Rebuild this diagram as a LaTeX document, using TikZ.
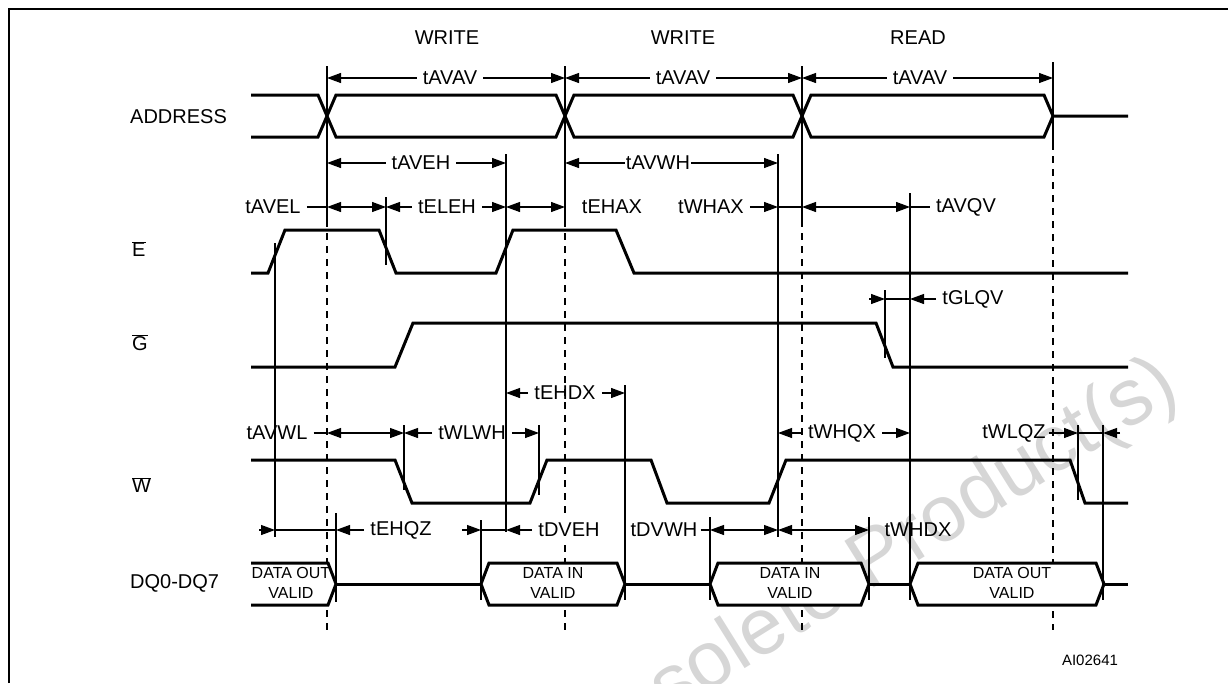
\documentclass[tikz,border=0pt]{standalone}
\usepackage{fontspec}
\setmainfont{Liberation Sans}
\newfontfamily\wmfont{Liberation Sans}
\usetikzlibrary{arrows.meta}
\begin{document}
\begin{tikzpicture}[x=1pt,y=-1pt,
  >={Triangle[length=14pt,width=10pt]},
  sig/.style={line width=3pt},
  thinl/.style={line width=1.1pt},
  dashv/.style={line width=1.1pt,dash pattern=on 7pt off 6pt},
  lbl/.style={font=\fontsize{20}{22}\selectfont,inner sep=6pt},
  sname/.style={font=\fontsize{20}{22}\selectfont,anchor=west,inner sep=0pt},
  small/.style={font=\fontsize{16}{20}\selectfont,align=center,inner sep=0pt},
]
\useasboundingbox (0,0) rectangle (1228,683);
% watermark
\node[rotate=32,text=black!16,font=\wmfont\fontsize{80}{80}\selectfont,anchor=base east,inner sep=0pt] (wm) at (1182,396) {Obsolete Product(s)};
% frame
\draw[line width=2.5pt] (9,683) -- (9,9) -- (1228,9);
% dashed period lines
\draw[thinl] (327,66) -- (327,220);
\draw[thinl] (565,66) -- (565,220);
\draw[thinl] (802,66) -- (802,220);
\draw[thinl] (1053,62) -- (1053,143);
\draw[dashv] (327,220) -- (327,630);
\draw[dashv] (565,220) -- (565,630);
\draw[dashv] (802,220) -- (802,630);
\draw[dashv] (1053,143) -- (1053,630);
% headings
\node[lbl] (w1) at (447,38) {WRITE};
\node[lbl] (w2) at (683,38) {WRITE};
\node[lbl] (rd) at (918,38) {READ};
% signal names
\node[sname] (nAddr) at (130,117) {ADDRESS};
\node[sname] (nE) at (132,249) {$\overline{\mbox{E}}$};
\node[sname] (nG) at (132,343) {$\overline{\mbox{G}}$};
\node[sname] (nW) at (132,485) {$\overline{\mbox{W}}$};
\node[sname] (nDQ) at (130,583) {DQ0-DQ7};
% address
\draw[sig] (251,95) -- (318,95) -- (336,137) -- (556,137) -- (574,95) -- (793,95) -- (811,137) -- (1044,137) -- (1053,116) -- (1128,116);
\draw[sig] (251,137) -- (318,137) -- (336,95) -- (556,95) -- (574,137) -- (793,137) -- (811,95) -- (1044,95) -- (1053,116);
% E
\draw[sig] (251,273) -- (268,273) -- (285,230) -- (379,230) -- (396,273) -- (496,273) -- (513,230) -- (616,230) -- (634,273) -- (1128,273);
% G
\draw[sig] (251,367) -- (395,367) -- (413,323) -- (876,323) -- (893,367) -- (1128,367);
% W
\draw[sig] (251,460) -- (395,460) -- (412,503) -- (530,503) -- (547,460) -- (651,460) -- (667,503) -- (769,503) -- (786,460) -- (1070,460) -- (1085,503) -- (1128,503);
% DQ
\draw[sig,fill=white] (251,563) -- (328,563) -- (336,584) -- (328,605) -- (251,605);
\draw[sig] (336,584) -- (481,584);
\draw[sig,fill=white] (481,584) -- (489,563) -- (617,563) -- (625,584) -- (617,605) -- (489,605) -- cycle;
\draw[sig] (625,584) -- (710,584);
\draw[sig,fill=white] (710,584) -- (718,563) -- (861,563) -- (869,584) -- (861,605) -- (718,605) -- cycle;
\draw[sig] (869,584) -- (910,584);
\draw[sig,fill=white] (910,584) -- (918,563) -- (1096,563) -- (1104,584) -- (1096,605) -- (918,605) -- cycle;
\draw[sig] (1104,584) -- (1128,584);
\node[small] (d1) at (291,583) {DATA OUT\\VALID};
\node[small] (d2) at (553,583) {DATA IN\\VALID};
\node[small] (d3) at (790,583) {DATA IN\\VALID};
\node[small] (d4) at (1012,583) {DATA OUT\\VALID};
% thin vertical reference lines
\draw[thinl] (386,197) -- (386,265);
\draw[thinl] (506,154) -- (506,532);
\draw[thinl] (778,154) -- (778,537);
\draw[thinl] (910,193) -- (910,600);
\draw[thinl] (275,243) -- (275,537);
\draw[thinl] (885,290) -- (885,358);
\draw[thinl] (625,385) -- (625,600);
\draw[thinl] (404,425) -- (404,490);
\draw[thinl] (539,425) -- (539,495);
\draw[thinl] (1078,425) -- (1078,500);
\draw[thinl] (1103,425) -- (1103,600);
\draw[thinl] (336,513) -- (336,602);
\draw[thinl] (481,520) -- (481,600);
\draw[thinl] (710,517) -- (710,600);
\draw[thinl] (869,517) -- (869,600);
% row tAVAV
\node[lbl] (a1) at (450,78) {tAVAV};
\draw[thinl,->] (a1.west) -- (327,78);
\draw[thinl,->] (a1.east) -- (565,78);
\node[lbl] (a2) at (683,78) {tAVAV};
\draw[thinl,->] (a2.west) -- (565,78);
\draw[thinl,->] (a2.east) -- (802,78);
\node[lbl] (a3) at (920,78) {tAVAV};
\draw[thinl,->] (a3.west) -- (802,78);
\draw[thinl,->] (a3.east) -- (1053,78);
% row tAVEH / tAVWH
\node[lbl] (a4) at (421,163) {tAVEH};
\draw[thinl,->] (a4.west) -- (327,163);
\draw[thinl,->] (a4.east) -- (506,163);
\node[lbl,inner sep=1pt] (a5) at (658,163) {tAVWH};
\draw[thinl,->] (a5.west) -- (565,163);
\draw[thinl,->] (a5.east) -- (778,163);
% row tAVEL ...
\node[lbl] (a6) at (273,207) {tAVEL};
\draw[thinl] (a6.east) -- (327,207);
\draw[thinl,<->] (327,207) -- (386,207);
\node[lbl] (a7) at (447,207) {tELEH};
\draw[thinl,->] (a7.west) -- (386,207);
\draw[thinl,->] (a7.east) -- (506,207);
\draw[thinl,<->] (506,207) -- (565,207);
\node[lbl] (a8) at (612,207) {tEHAX};
\node[lbl] (a9) at (711,207) {tWHAX};
\draw[thinl,->] (a9.east) -- (778,207);
\draw[thinl] (778,207) -- (802,207);
\draw[thinl,<->] (802,207) -- (910,207);
\node[lbl] (a10) at (966,207) {tAVQV};
\draw[thinl] (910,207) -- (a10.west);
% row tGLQV
\node[lbl] (a11) at (973,299) {tGLQV};
\draw[thinl,->] (869,299) -- (885,299);
\draw[thinl] (885,299) -- (910,299);
\draw[thinl,->] (a11.west) -- (910,299);
% row tEHDX
\node[lbl] (a12) at (565,393) {tEHDX};
\draw[thinl,->] (a12.west) -- (506,393);
\draw[thinl,->] (a12.east) -- (625,393);
% row tAVWL ...
\node[lbl] (a13) at (277,433) {tAVWL};
\draw[thinl] (a13.east) -- (327,433);
\draw[thinl,<->] (327,433) -- (404,433);
\node[lbl] (a14) at (472,433) {tWLWH};
\draw[thinl,->] (a14.west) -- (404,433);
\draw[thinl,->] (a14.east) -- (539,433);
\node[lbl] (a15) at (842,433) {tWHQX};
\draw[thinl,->] (a15.west) -- (778,433);
\draw[thinl,->] (a15.east) -- (910,433);
\node[lbl,inner sep=3pt] (a16) at (1014,433) {tWLQZ};
\draw[thinl,->] (a16.east) -- (1078,433);
\draw[thinl] (1078,433) -- (1103,433);
\draw[thinl,->] (1120,433) -- (1103,433);
% row tEHQZ ...
\draw[thinl,->] (259,530) -- (275,530);
\draw[thinl] (275,530) -- (336,530);
\node[lbl] (a17) at (401,530) {tEHQZ};
\draw[thinl,->] (a17.west) -- (336,530);
\draw[thinl,->] (462,530) -- (481,530);
\draw[thinl] (481,530) -- (506,530);
\node[lbl,fill=white] (a18) at (569,530) {tDVEH};
\draw[thinl,->] (a18.west) -- (506,530);
\node[lbl,inner sep=3pt] (a19) at (664,530) {tDVWH};
\draw[thinl] (a19.east) -- (710,530);
\draw[thinl,<->] (710,530) -- (778,530);
\draw[thinl,<->] (778,530) -- (869,530);
\node[lbl] (a20) at (918,530) {tWHDX};
% figure id
\node[font=\fontsize{15}{17}\selectfont,inner sep=0pt] (fid) at (1090,660) {AI02641};
\end{tikzpicture}
\end{document}
